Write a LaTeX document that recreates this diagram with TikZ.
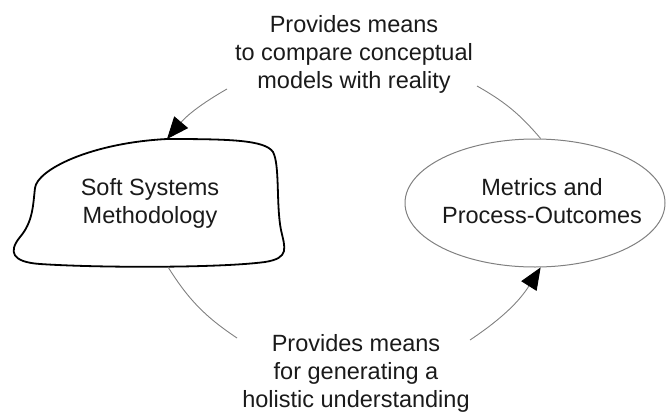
\documentclass[tikz,border=0pt]{standalone}
\usepackage{fontspec}
\setmainfont{Liberation Sans}
\usetikzlibrary{shapes.geometric,arrows.meta}
\definecolor{txtcol}{HTML}{1A1A1A}
\definecolor{linecol}{HTML}{808080}
\tikzset{
  txt/.style={align=center, inner sep=0pt, text=txtcol, font=\fontsize{23.5}{27.7}\selectfont},
  conn/.style={draw=linecol, line width=0.9pt},
  tip/.style={-{Triangle[length=22pt,width=18pt,color=black,fill=black]}},
  blob/.style={draw=black, line width=1.8pt, fill=white},
  ovalbox/.style={ellipse, draw=linecol, line width=1pt, minimum width=260pt, minimum height=128pt, inner sep=0pt}
}
\begin{document}
\begin{tikzpicture}[x=1pt,y=-1pt]
\useasboundingbox (0,0) rectangle (666,412);
% Soft Systems Methodology blob
\draw[blob] (167,139) .. controls (230,139) and (265,140) .. (273,152)
  .. controls (280,165) and (276,205) .. (281,230)
  .. controls (285,248) and (290,258) .. (265,262)
  .. controls (220,268) and (100,268) .. (40,264)
  .. controls (12,262) and (8,252) .. (20,237)
  .. controls (33,222) and (33,205) .. (35,188)
  .. controls (37,170) and (90,143) .. (167,139) -- cycle;
\node[txt] (ssm) at (150,203.3) {Soft Systems\\Methodology};
\coordinate (ssmN) at (167,139);
\coordinate (ssmS) at (168,267);
% Metrics ellipse
\node[ovalbox] (met) at (535,203) {};
\node[txt] (mettxt) at (542,201.1) {Metrics and\\Process-Outcomes};
% labels
\node[txt] (top) at (354,54.3) {Provides means\\to compare conceptual\\models with reality};
\node[txt] (bot) at (356,373.3) {Provides means\\for generating a\\holistic understanding};
\coordinate (t1) at (227,89);
\coordinate (t2) at (477,86);
\coordinate (b1) at (237,338);
\coordinate (b2) at (470,340);
% connectors
\draw[conn, tip] (t1) to[bend right=10] (ssmN);
\draw[conn] (t2) to[bend left=10] (met.85);
\draw[conn] (ssmS) to[bend right=12] (b1);
\draw[conn, tip] (b2) to[bend right=12] (met.-85);
\end{tikzpicture}
\end{document}
